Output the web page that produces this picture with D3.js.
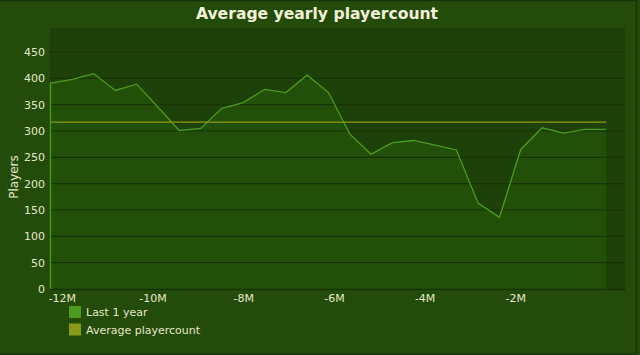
<!DOCTYPE html>
<html><head><meta charset="utf-8">
<script src="https://cdn.jsdelivr.net/npm/d3@7"></script>
<style>
html,body{margin:0;padding:0;background:#234c0b;}
svg{display:block;font-family:"DejaVu Sans",Verdana,sans-serif;}
</style></head>
<body>
<svg id="c" width="640" height="355"></svg>
<script>
const monthsAgo = [-12.24,-11.77,-11.30,-10.82,-10.35,-9.88,-9.41,-8.94,-8.47,-8.00,-7.53,-7.06,-6.59,-6.12,-5.65,-5.18,-4.71,-4.24,-3.77,-3.30,-2.82,-2.35,-1.88,-1.41,-0.94,-0.47,0];
const players = [391,398,409,377,389,345,301,305,343,354,379,373,406,373,294,256,278,282,273,264,163,136,265,306,296,303,303];
const averagePlayers = 317;
const yTicks = [0,50,100,150,200,250,300,350,400,450];
const xTicks = [-12,-10,-8,-6,-4,-2];
const seriesNames = ["Last 1 year","Average playercount"];

const svg = d3.select("#c");
const W=640,H=355;
const pl=50, pr=625, pt=28, pb=289;

svg.append("rect").attr("x",0).attr("y",0).attr("width",W).attr("height",H).attr("fill","#234c0b");
svg.append("rect").attr("x",-2).attr("y",0.5).attr("width",638.5).attr("height",353.5)
  .attr("fill","none").attr("stroke","#173607").attr("stroke-width",1.5);

const x = d3.scaleLinear().domain([-12.24,0]).range([51,606]);
const y = d3.scaleLinear().domain([0,450]).range([pb,52]);

svg.append("rect").attr("x",pl).attr("y",pt).attr("width",pr-pl).attr("height",pb-pt).attr("fill","#1e4109");

const data = monthsAgo.map((m,i)=>({m, v:players[i]}));
const area = d3.area().x(d=>x(d.m)).y0(y(0)).y1(d=>y(d.v));
svg.append("path").datum(data).attr("d",area).attr("fill","#235009");

// gridlines
svg.append("g").selectAll("line").data(yTicks.filter(t=>t>0)).join("line")
  .attr("x1",pl).attr("x2",pr).attr("y1",d=>y(d)).attr("y2",d=>y(d))
  .attr("stroke","#163306").attr("stroke-width",1.2);

// bottom axis line
svg.append("line").attr("x1",pl).attr("x2",pr).attr("y1",pb+0.5).attr("y2",pb+0.5).attr("stroke","#163306").attr("stroke-width",1.5);

// series line with left edge
const line = d3.line().x(d=>x(d.m)).y(d=>y(d.v));
svg.append("path").datum(data).attr("fill","none").attr("stroke","#4c9c1c").attr("stroke-width",1.3)
  .attr("d", "M"+(pl+0.5)+","+pb+"L"+(pl+0.5)+","+y(players[0])+"L"+line(data).slice(1));

// average line
svg.append("line").attr("x1",x(monthsAgo[0])).attr("x2",x(0)).attr("y1",y(averagePlayers)).attr("y2",y(averagePlayers))
  .attr("stroke","#8f9a14").attr("stroke-width",1.3);

// y axis labels
const yAxis = d3.axisLeft(y).tickValues(yTicks).tickSize(0).tickPadding(5);
const ga = svg.append("g").attr("transform",`translate(${pl},0)`).call(yAxis);
ga.select(".domain").remove();
ga.selectAll("text").attr("fill","#e6e6c8").attr("font-size",11).attr("font-family","DejaVu Sans");

// x axis labels
const xAxis = d3.axisBottom(x).tickValues(xTicks).tickFormat(d=>d+"M").tickSize(0).tickPadding(5);
const gx = svg.append("g").attr("transform",`translate(0,${pb})`).call(xAxis);
gx.select(".domain").remove();
gx.selectAll("text").attr("fill","#e6e6c8").attr("font-size",11).attr("font-family","DejaVu Sans");

// y title
svg.append("text").attr("transform","translate(18,177) rotate(-90)").attr("text-anchor","middle")
  .attr("fill","#e6e6c8").attr("font-size",12).text("Players");

// title
svg.append("text").attr("x",317).attr("y",18.5).attr("text-anchor","middle").attr("font-weight","bold")
  .attr("font-size",15.6).attr("fill","#f2f0d8").text("Average yearly playercount");

// legend
const lcol = ["#4a9a1c","#8c9a1a"];
const lg = svg.append("g");
seriesNames.forEach((n,i)=>{
  lg.append("rect").attr("x",69).attr("y",306+i*17.5).attr("width",12).attr("height",12).attr("fill",lcol[i]);
  lg.append("text").attr("x",86).attr("y",316+i*17.5).attr("fill","#e6e6c8").attr("font-size",11).text(n);
});
</script>
</body></html>
